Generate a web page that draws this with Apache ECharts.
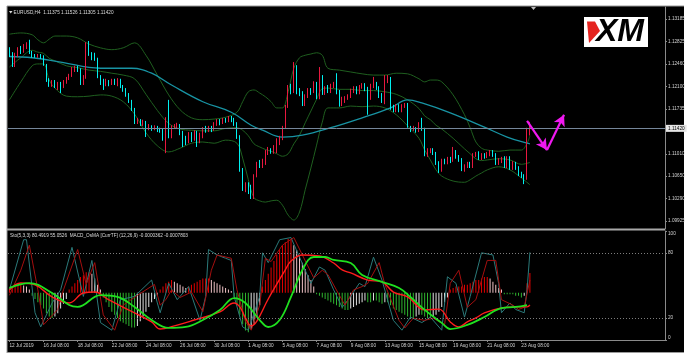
<!DOCTYPE html>
<html><head><meta charset="utf-8">
<script src="https://cdn.jsdelivr.net/npm/echarts@6/dist/echarts.min.js"></script>
<style>html,body{margin:0;padding:0;background:#fff;}#c{width:694px;height:359px;}</style>
</head><body><div id="c"></div><script>
// ---------- categories (H4 bars) ----------
const tradingDays = ['12 Jul','15 Jul','16 Jul','17 Jul','18 Jul','19 Jul','22 Jul','23 Jul','24 Jul','25 Jul','26 Jul','29 Jul','30 Jul','31 Jul','1 Aug','2 Aug','5 Aug','6 Aug','7 Aug','8 Aug','9 Aug','12 Aug','13 Aug','14 Aug','15 Aug','16 Aug','19 Aug','20 Aug','21 Aug','22 Aug','23 Aug'];
const barHours = ['00:00','04:00','08:00','12:00','16:00','20:00'];
const firstBarHour = '08:00';
const emptyBarsRight = 47;
const timeTicks = ['12 Jul 08:00','16 Jul 08:00','18 Jul 08:00','22 Jul 08:00','24 Jul 08:00','26 Jul 08:00','30 Jul 08:00','1 Aug 08:00','5 Aug 08:00','7 Aug 08:00','9 Aug 08:00','13 Aug 08:00','15 Aug 08:00','19 Aug 08:00','21 Aug 08:00','23 Aug 08:00'];
const timeTickLabels = ['12 Jul 2019','16 Jul 08:00','18 Jul 08:00','22 Jul 08:00','24 Jul 08:00','26 Jul 08:00','30 Jul 08:00','1 Aug 08:00','5 Aug 08:00','7 Aug 08:00','9 Aug 08:00','13 Aug 08:00','15 Aug 08:00','19 Aug 08:00','21 Aug 08:00','23 Aug 08:00'];
const priceTicks = [1.13185,1.12825,1.12460,1.12100,1.11735,1.11010,1.10650,1.10290,1.09925];
const oscTicks = [0,20,80,100];
const oscLevels = [80,20];
const lastPrice = 1.11420;

// ---------- EURUSD H4 candles [open, close, low, high] ----------
const candles = [
[1.1269,1.1260,1.1257,1.1273],[1.1260,1.1244,1.1241,1.1265],[1.1244,1.1260,1.1241,1.1264],[1.1260,1.1269,1.1257,1.1273],
[1.1269,1.1265,1.1262,1.1275],[1.1265,1.1273,1.1264,1.1278],[1.1273,1.1278,1.1270,1.1281],[1.1278,1.1264,1.1262,1.1285],
[1.1264,1.1259,1.1256,1.1267],[1.1259,1.1257,1.1256,1.1262],[1.1257,1.1260,1.1256,1.1262],[1.1260,1.1257,1.1254,1.1262],
[1.1257,1.1244,1.1243,1.1260],[1.1244,1.1220,1.1217,1.1246],[1.1220,1.1212,1.1209,1.1223],[1.1212,1.1217,1.1209,1.1220],
[1.1217,1.1210,1.1207,1.1220],[1.1210,1.1214,1.1204,1.1217],[1.1214,1.1209,1.1199,1.1217],[1.1209,1.1217,1.1207,1.1220],
[1.1217,1.1222,1.1214,1.1225],[1.1222,1.1228,1.1220,1.1230],[1.1228,1.1238,1.1225,1.1241],[1.1238,1.1239,1.1233,1.1243],
[1.1239,1.1236,1.1233,1.1243],[1.1236,1.1215,1.1212,1.1239],[1.1215,1.1225,1.1212,1.1228],[1.1225,1.1277,1.1222,1.1281],
[1.1277,1.1260,1.1259,1.1283],[1.1260,1.1256,1.1252,1.1265],[1.1256,1.1252,1.1251,1.1264],[1.1252,1.1225,1.1223,1.1256],
[1.1225,1.1215,1.1212,1.1228],[1.1215,1.1212,1.1204,1.1222],[1.1212,1.1218,1.1210,1.1222],[1.1218,1.1214,1.1210,1.1220],
[1.1214,1.1218,1.1212,1.1222],[1.1218,1.1215,1.1212,1.1222],[1.1215,1.1220,1.1210,1.1223],[1.1220,1.1210,1.1207,1.1222],
[1.1210,1.1204,1.1201,1.1212],[1.1204,1.1196,1.1193,1.1207],[1.1196,1.1185,1.1183,1.1199],[1.1185,1.1173,1.1170,1.1188],
[1.1173,1.1152,1.1149,1.1175],[1.1152,1.1156,1.1149,1.1159],[1.1156,1.1149,1.1146,1.1157],[1.1149,1.1152,1.1146,1.1156],
[1.1152,1.1143,1.1128,1.1154],[1.1143,1.1146,1.1139,1.1149],[1.1146,1.1141,1.1138,1.1147],[1.1141,1.1144,1.1139,1.1147],
[1.1144,1.1139,1.1136,1.1146],[1.1139,1.1138,1.1135,1.1143],[1.1138,1.1130,1.1122,1.1141],[1.1130,1.1156,1.1102,1.1160],
[1.1156,1.1130,1.1126,1.1188],[1.1130,1.1144,1.1126,1.1147],[1.1144,1.1146,1.1141,1.1149],[1.1146,1.1147,1.1141,1.1151],
[1.1147,1.1135,1.1131,1.1149],[1.1135,1.1122,1.1112,1.1138],[1.1122,1.1120,1.1115,1.1130],[1.1120,1.1133,1.1118,1.1136],
[1.1133,1.1123,1.1120,1.1136],[1.1123,1.1136,1.1122,1.1139],[1.1136,1.1122,1.1112,1.1138],[1.1122,1.1131,1.1118,1.1135],
[1.1131,1.1143,1.1126,1.1144],[1.1143,1.1138,1.1135,1.1146],[1.1138,1.1143,1.1136,1.1146],[1.1143,1.1139,1.1136,1.1146],
[1.1139,1.1149,1.1138,1.1152],[1.1149,1.1154,1.1146,1.1157],[1.1154,1.1151,1.1147,1.1157],[1.1151,1.1156,1.1149,1.1159],
[1.1156,1.1154,1.1151,1.1159],[1.1154,1.1159,1.1152,1.1162],[1.1159,1.1156,1.1152,1.1162],[1.1156,1.1149,1.1146,1.1159],
[1.1149,1.1128,1.1125,1.1152],[1.1128,1.1075,1.1072,1.1131],[1.1075,1.1046,1.1041,1.1078],[1.1046,1.1052,1.1039,1.1055],
[1.1052,1.1043,1.1036,1.1055],[1.1043,1.1031,1.1028,1.1051],[1.1031,1.1065,1.1028,1.1068],[1.1065,1.1084,1.1063,1.1088],
[1.1084,1.1081,1.1078,1.1091],[1.1081,1.1088,1.1078,1.1093],[1.1088,1.1102,1.1083,1.1107],[1.1102,1.1107,1.1099,1.1112],
[1.1107,1.1104,1.1101,1.1110],[1.1104,1.1112,1.1101,1.1115],[1.1112,1.1123,1.1102,1.1126],[1.1123,1.1126,1.1115,1.1130],
[1.1126,1.1143,1.1123,1.1146],[1.1143,1.1177,1.1141,1.1180],[1.1177,1.1209,1.1175,1.1212],[1.1209,1.1201,1.1197,1.1214],
[1.1201,1.1241,1.1199,1.1249],[1.1241,1.1201,1.1197,1.1244],[1.1201,1.1199,1.1194,1.1207],[1.1199,1.1181,1.1178,1.1202],
[1.1181,1.1194,1.1178,1.1197],[1.1194,1.1204,1.1191,1.1207],[1.1204,1.1201,1.1196,1.1207],[1.1201,1.1215,1.1199,1.1218],
[1.1215,1.1193,1.1189,1.1217],[1.1193,1.1225,1.1189,1.1241],[1.1225,1.1199,1.1196,1.1228],[1.1199,1.1207,1.1196,1.1210],
[1.1207,1.1202,1.1199,1.1212],[1.1202,1.1210,1.1199,1.1214],[1.1210,1.1214,1.1207,1.1217],[1.1214,1.1201,1.1197,1.1231],
[1.1201,1.1181,1.1177,1.1204],[1.1181,1.1188,1.1178,1.1193],[1.1188,1.1191,1.1183,1.1194],[1.1191,1.1194,1.1188,1.1197],
[1.1194,1.1202,1.1191,1.1206],[1.1202,1.1207,1.1199,1.1210],[1.1207,1.1201,1.1197,1.1210],[1.1201,1.1209,1.1197,1.1212],
[1.1209,1.1212,1.1206,1.1215],[1.1212,1.1206,1.1202,1.1215],[1.1206,1.1191,1.1164,1.1209],[1.1191,1.1210,1.1188,1.1214],
[1.1210,1.1214,1.1207,1.1225],[1.1214,1.1207,1.1204,1.1217],[1.1207,1.1194,1.1191,1.1210],[1.1194,1.1188,1.1183,1.1199],
[1.1188,1.1220,1.1181,1.1228],[1.1220,1.1222,1.1215,1.1228],[1.1222,1.1175,1.1172,1.1225],[1.1175,1.1173,1.1168,1.1180],
[1.1173,1.1178,1.1168,1.1181],[1.1178,1.1172,1.1168,1.1181],[1.1172,1.1178,1.1168,1.1181],[1.1178,1.1180,1.1175,1.1183],
[1.1180,1.1144,1.1143,1.1183],[1.1144,1.1139,1.1136,1.1146],[1.1139,1.1143,1.1138,1.1146],[1.1143,1.1138,1.1135,1.1144],
[1.1138,1.1149,1.1136,1.1152],[1.1149,1.1139,1.1138,1.1159],[1.1139,1.1099,1.1097,1.1143],[1.1099,1.1107,1.1096,1.1110],
[1.1107,1.1109,1.1102,1.1110],[1.1109,1.1102,1.1099,1.1110],[1.1102,1.1086,1.1083,1.1104],[1.1086,1.1073,1.1070,1.1089],
[1.1073,1.1089,1.1072,1.1093],[1.1089,1.1088,1.1084,1.1093],[1.1088,1.1093,1.1084,1.1096],[1.1093,1.1089,1.1086,1.1096],
[1.1089,1.1104,1.1088,1.1112],[1.1104,1.1096,1.1093,1.1107],[1.1096,1.1091,1.1088,1.1099],[1.1091,1.1075,1.1073,1.1094],
[1.1075,1.1081,1.1072,1.1084],[1.1081,1.1084,1.1078,1.1088],[1.1084,1.1081,1.1078,1.1088],[1.1081,1.1099,1.1078,1.1102],
[1.1099,1.1101,1.1096,1.1104],[1.1101,1.1093,1.1091,1.1105],[1.1093,1.1099,1.1091,1.1102],[1.1099,1.1096,1.1093,1.1102],
[1.1096,1.1101,1.1094,1.1104],[1.1101,1.1104,1.1097,1.1107],[1.1104,1.1099,1.1096,1.1107],[1.1099,1.1086,1.1083,1.1102],
[1.1086,1.1091,1.1083,1.1094],[1.1091,1.1093,1.1086,1.1096],[1.1093,1.1081,1.1078,1.1097],[1.1081,1.1094,1.1078,1.1097],
[1.1094,1.1078,1.1075,1.1097],[1.1078,1.1086,1.1075,1.1089],[1.1086,1.1078,1.1075,1.1088],[1.1078,1.1067,1.1065,1.1081],
[1.1067,1.1065,1.1062,1.1072],[1.1065,1.1062,1.1052,1.1068],[1.1062,1.1138,1.1059,1.1143],[1.11375,1.11420,1.11305,1.11526]
];

// ---------- overlays: [bar index, price] ----------
const bbUpper = [[0,1.1294],[4,1.1296],[8,1.1293],[10,1.1285],[12,1.1280],[14,1.1286],[16,1.1291],[20,1.1291],[24,1.1288],[28,1.1278],[32,1.1272],[36,1.1269],[40,1.1272],[44,1.1280],[48,1.1260],[52,1.1228],[56,1.1196],[60,1.1172],[64,1.1159],[68,1.1156],[72,1.1157],[76,1.1160],[80,1.1168],[82,1.1185],[84,1.1201],[86,1.1204],[88,1.1199],[90,1.1193],[92,1.1185],[94,1.1175],[96,1.1175],[98,1.1201],[100,1.1239],[102,1.1256],[104,1.1260],[106,1.1262],[108,1.1264],[110,1.1260],[112,1.1239],[116,1.1236],[120,1.1233],[124,1.1230],[128,1.1228],[132,1.1228],[136,1.1231],[140,1.1230],[144,1.1222],[146,1.1217],[148,1.1220],[150,1.1220],[152,1.1217],[156,1.1196],[160,1.1164],[162,1.1143],[164,1.1120],[166,1.1110],[168,1.1107],[172,1.1105],[176,1.1107],[180,1.1107],[182,1.1118],[183,1.1130]];
const bbMiddle = [[0,1.1241],[4,1.1256],[8,1.1268],[10,1.1265],[12,1.1263],[14,1.1255],[16,1.1251],[20,1.1243],[24,1.1240],[28,1.1236],[32,1.1234],[36,1.1231],[40,1.1228],[44,1.1222],[48,1.1197],[52,1.1171],[56,1.1150],[60,1.1141],[64,1.1139],[68,1.1138],[72,1.1138],[76,1.1142],[80,1.1143],[82,1.1139],[84,1.1130],[86,1.1117],[88,1.1112],[90,1.1108],[92,1.1105],[94,1.1101],[96,1.1097],[98,1.1101],[100,1.1117],[102,1.1131],[104,1.1151],[106,1.1170],[108,1.1189],[110,1.1206],[112,1.1207],[116,1.1205],[120,1.1205],[124,1.1203],[128,1.1203],[132,1.1201],[136,1.1197],[140,1.1188],[144,1.1174],[146,1.1162],[148,1.1156],[150,1.1147],[152,1.1141],[156,1.1126],[160,1.1109],[162,1.1101],[164,1.1093],[166,1.1090],[168,1.1091],[172,1.1093],[176,1.1091],[180,1.1084],[183,1.1087]];
const bbLower = [[0,1.1188],[4,1.1217],[8,1.1243],[10,1.1246],[12,1.1246],[14,1.1220],[16,1.1207],[20,1.1194],[24,1.1193],[28,1.1194],[32,1.1196],[36,1.1194],[40,1.1185],[44,1.1165],[48,1.1135],[52,1.1114],[56,1.1104],[60,1.1110],[64,1.1118],[68,1.1120],[72,1.1118],[76,1.1123],[80,1.1118],[82,1.1094],[84,1.1059],[86,1.1030],[88,1.1025],[90,1.1023],[92,1.1025],[94,1.1026],[96,1.1018],[98,1.1002],[100,1.0994],[102,1.1007],[104,1.1043],[106,1.1078],[108,1.1115],[110,1.1152],[112,1.1175],[116,1.1175],[120,1.1178],[124,1.1177],[128,1.1178],[132,1.1175],[136,1.1164],[140,1.1146],[144,1.1126],[146,1.1107],[148,1.1091],[150,1.1075],[152,1.1065],[156,1.1057],[160,1.1055],[162,1.1059],[164,1.1065],[166,1.1070],[168,1.1075],[172,1.1080],[176,1.1075],[180,1.1062],[183,1.1051]];
const maLine = [[0,1.1258],[8,1.1256],[18,1.1249],[32,1.1239],[43,1.1239],[50,1.1231],[57,1.1212],[68,1.1185],[78,1.1168],[85,1.1147],[89,1.1139],[96,1.1128],[103,1.1131],[113,1.1143],[124,1.1159],[134,1.1175],[140,1.1188],[145,1.1183],[155,1.1167],[167,1.1144],[175,1.1128],[182,1.1118],[183,1.1117]];
const arrowPath = [[182,1.1154],[189,1.1107],[195,1.1164]];

// ---------- oscillator window ----------
const stochMain = [[0,46],[5,92],[6,92],[9,25],[11,12],[15,34],[18,46],[22,85],[26,40],[29,73],[32,16],[36,9],[39,37],[44,40],[50,55],[52,34],[53,25],[56,52],[59,37],[63,49],[67,18],[69,40],[70,83],[73,78],[76,75],[78,73],[79,40],[82,12],[84,9],[88,40],[89,80],[91,71],[95,92],[99,94],[102,76],[106,52],[109,67],[111,64],[114,46],[117,30],[120,40],[123,52],[125,49],[128,76],[131,55],[135,18],[138,9],[141,21],[145,16],[148,21],[152,9],[154,58],[157,52],[160,21],[162,40],[166,80],[170,78],[172,52],[173,25],[176,34],[178,28],[181,25],[182,46],[183,80.49]];
const stochSignal = [[0,41],[4,64],[7,87],[10,46],[12,14],[17,28],[19,46],[24,83],[27,51],[30,71],[33,23],[37,9],[40,32],[45,41],[51,51],[53,32],[55,37],[57,46],[60,39],[64,44],[68,26],[71,64],[73,78],[78,75],[80,46],[83,17],[85,9],[88,32],[90,75],[92,72],[96,87],[100,94],[103,78],[107,57],[110,64],[112,60],[116,41],[118,32],[121,46],[124,49],[126,52],[130,71],[132,51],[137,18],[139,11],[142,20],[146,18],[149,20],[153,14],[155,52],[158,64],[161,30],[164,37],[168,73],[171,73],[173,37],[177,32],[179,28],[181,30],[183,55.05]];
// MACD values in units of 0.0001
const macdMain = [[0,1.7],[4,6.1],[9,4.9],[15,-2.7],[21,-6.5],[26,-0.2],[30,0.4],[35,-4.6],[44,-12.8],[50,-18.5],[53,-23],[58,-21],[65,-17.3],[74,-12.2],[79,-6.5],[81,-9],[83,-16],[85,-21],[87,-18],[91,-4],[97,14.4],[99,20],[103,23.9],[109,23.2],[114,18.8],[117,14.4],[120,12.5],[126,8],[131,6.8],[135,0.4],[140,-2.7],[146,-10.9],[151,-10.4],[155,-18.5],[158,-21.7],[161,-18.5],[164,-16],[167,-12.8],[173,-9.7],[178,-9],[182,-9],[183,-7.8]];
const macdSignal = [[0,3],[7,6.1],[15,-0.2],[21,-7.8],[24,-9],[32,-1.5],[38,-2.7],[44,-9],[50,-17.3],[56,-22.3],[62,-21.7],[68,-17.3],[74,-11],[79,-3.4],[83,-6.5],[88,-17.3],[91,-21.7],[95,-17.3],[99,-2.7],[103,14.4],[107,22.6],[111,22.6],[114,20.7],[120,18.8],[124,11.2],[131,6.8],[137,3],[141,-2.7],[146,-10.9],[152,-19.1],[155,-23],[161,-20.4],[167,-15.4],[173,-9.7],[178,-9],[182,-7.8]];
const osmaHist = [3,3.5,4,4.5,5,4.5,4,2,
-2,-4,-6,-8,-10,-13,-15,-16,-15,-13,-10,-7,-4,
2,4,6,8,10,11,13,13,12,9,5,2,
-3,-6,-9,-12,-14,-16,-18,-19,-20,-21,-22,-22,-21,-18,-15,-12,-9,-6,-4,-2,
2,4,6,7,8,7,6,5,4,3,
4,5,6,7,8,9,9,9,8,7,6,5,4,3,2,1,
-3,-8,-14,-20,-24,-25,-23,-20,-15,-8,
4,8,12,16,20,24,27,30,32,34,34,30,
27,23,19,15,11,8,4,
-1,-2,-3,-4,-5,-6,-7,-8,-9,-10,-11,-11,-10,-9,-8,-7,-6,-5,
-6,-6,-5,-5,-6,-7,-6,-6,-8,-10,-11,-12,-13,-14,-15,-16,-16,-15,-14,-14,-15,-16,-16,-15,-14,-12,-9,-6,-3,
2,3,4,4,4,5,5,6,7,8,8,9,10,10,9,7,5,3,2,
-1,-1,-1,-1,-2,-2,-3,-2,
6,12.5];

// ---------- build ----------
const categories = [];
tradingDays.forEach((d, k) => barHours.forEach(h => {
  if (k === 0 && h < firstBarHour) return;
  categories.push(d + ' ' + h);
}));
for (let k = 0; k < emptyBarsRight; k++) categories.push('pad' + k);
const isTick = (idx, val) => timeTicks.indexOf(val) >= 0;

const FONT = 'Liberation Sans';
const SMALL = 4.7;
const TXT = '#d2d2d2';
const GRAY = '#8a8a8a';

const histColor = p => {
  const i = p.dataIndex, v = osmaHist[i], pv = i > 0 ? osmaHist[i - 1] : 0;
  if (v >= 0) return v >= pv ? '#e60000' : '#f2c4c8';
  return v <= pv ? '#2fb52f' : '#e4e4e4';
};

const chart = echarts.init(document.getElementById('c'), null, {renderer: 'canvas'});
chart.setOption({
  animation: false,
  backgroundColor: '#ffffff',
  grid: [
    {left: 8, top: 7, width: 657, height: 222, outerBoundsMode: 'none'},
    {left: 8, top: 231, width: 657, height: 109, outerBoundsMode: 'none'}
  ],
  xAxis: [
    {type: 'category', gridIndex: 0, data: categories, boundaryGap: true,
     axisLine: {show: false}, axisTick: {show: false}, axisLabel: {show: false}, splitLine: {show: false}},
    {type: 'category', gridIndex: 1, data: categories, boundaryGap: true,
     axisLine: {show: true, lineStyle: {color: GRAY, width: 1}},
     axisTick: {show: true, alignWithLabel: true, interval: isTick, length: 2, lineStyle: {color: GRAY}},
     axisLabel: {show: true, interval: isTick, align: 'left', margin: 3, color: TXT, fontSize: SMALL, fontFamily: FONT,
       formatter: v => { const k = timeTicks.indexOf(v); return k >= 0 ? timeTickLabels[k] : ''; }},
     splitLine: {show: false}}
  ],
  yAxis: [
    {type: 'value', gridIndex: 0, position: 'right', min: 1.097959, max: 1.133787, scale: true,
     axisLine: {show: true, lineStyle: {color: GRAY}},
     axisTick: {show: true, length: 2, customValues: priceTicks, lineStyle: {color: GRAY}},
     axisLabel: {show: true, customValues: priceTicks, formatter: v => v.toFixed(5), margin: 3, color: TXT, fontSize: SMALL, fontFamily: FONT},
     splitLine: {show: false}},
    {type: 'value', gridIndex: 1, position: 'right', min: 0, max: 100,
     axisLine: {show: true, lineStyle: {color: GRAY}},
     axisTick: {show: true, length: 2, customValues: oscTicks, lineStyle: {color: GRAY}},
     axisLabel: {show: true, customValues: oscTicks, margin: 3, color: TXT, fontSize: SMALL, fontFamily: FONT,
       verticalAlignMinLabel: 'bottom', verticalAlignMaxLabel: 'top'},
     splitLine: {show: false}},
    {type: 'value', gridIndex: 1, min: -29.94, max: 39.05, show: false, splitLine: {show: false}}
  ],
  series: [
    {type: 'line', name: 'bbU', xAxisIndex: 0, yAxisIndex: 0, data: bbUpper, smooth: 0.35, symbol: 'none', z: 1,
     lineStyle: {color: '#1f5f1f', width: 1}},
    {type: 'line', name: 'bbM', xAxisIndex: 0, yAxisIndex: 0, data: bbMiddle, smooth: 0.35, symbol: 'none', z: 1,
     lineStyle: {color: '#1f5f1f', width: 1}},
    {type: 'line', name: 'bbL', xAxisIndex: 0, yAxisIndex: 0, data: bbLower, smooth: 0.35, symbol: 'none', z: 1,
     lineStyle: {color: '#1f5f1f', width: 1}},
    {type: 'line', name: 'ma', xAxisIndex: 0, yAxisIndex: 0, data: maLine, smooth: 0.4, symbol: 'none', z: 1,
     lineStyle: {color: '#1893a3', width: 1.3},
     markLine: {silent: true, animation: false, precision: 5, symbol: ['none', 'none'],
       data: [{yAxis: lastPrice, lineStyle: {color: '#75869a', width: 1, type: 'solid'},
          label: {show: true, position: 'end', distance: 1, formatter: lastPrice.toFixed(5), backgroundColor: '#e6e6e6',
                  color: '#000', fontSize: SMALL, fontFamily: FONT, padding: [1, 2, 1, 2]}}]}},
    {type: 'candlestick', xAxisIndex: 0, yAxisIndex: 0, data: candles, barWidth: 1, z: 3,
     itemStyle: {color: '#e8183f', color0: '#00f0f0', borderColor: '#e8183f', borderColor0: '#00f0f0', borderWidth: 1},
     markLine: {silent: true, animation: false, precision: 5, symbol: ['none', 'none'], label: {show: false},
       data: [
         [{coord: arrowPath[0], symbol: 'none'}, {coord: arrowPath[1], symbol: 'arrow', symbolSize: [9, 11],
           lineStyle: {color: '#f019f0', width: 2.2, type: 'solid'}}],
         [{coord: arrowPath[1], symbol: 'none'}, {coord: arrowPath[2], symbol: 'arrow', symbolSize: [9, 11],
           lineStyle: {color: '#f019f0', width: 2.2, type: 'solid'}}]
       ]}},
    {type: 'bar', xAxisIndex: 1, yAxisIndex: 2, data: osmaHist, barWidth: 1, z: 1,
     itemStyle: {color: histColor}},
    {type: 'line', xAxisIndex: 1, yAxisIndex: 1, data: stochMain, symbol: 'none', z: 2,
     lineStyle: {color: '#2b7a7a', width: 1},
     markLine: {silent: true, symbol: ['none', 'none'], label: {show: false},
       lineStyle: {color: '#7d7d7d', width: 1, type: [1, 2]},
       data: oscLevels.map(v => ({yAxis: v}))}},
    {type: 'line', xAxisIndex: 1, yAxisIndex: 1, data: stochSignal, symbol: 'none', z: 2,
     lineStyle: {color: '#a50f0f', width: 1}},
    {type: 'line', xAxisIndex: 1, yAxisIndex: 2, data: macdMain, smooth: 0.4, symbol: 'none', z: 3,
     lineStyle: {color: '#ff1c1c', width: 1.4}},
    {type: 'line', xAxisIndex: 1, yAxisIndex: 2, data: macdSignal, smooth: 0.4, symbol: 'none', z: 3,
     lineStyle: {color: '#1fe01f', width: 1.8}}
  ],
  graphic: [
    {type: 'rect', z: -100, silent: true, shape: {x: 7, y: 6, width: 677, height: 347}, style: {fill: '#000'}},
    {type: 'rect', z: 100, silent: true, shape: {x: 7, y: 5.5, width: 677, height: 1}, style: {fill: '#9a9a9a'}},
    {type: 'rect', z: 100, silent: true, shape: {x: 6.5, y: 6, width: 1, height: 347}, style: {fill: '#9a9a9a'}},
    {type: 'rect', z: 100, silent: true, shape: {x: 7, y: 352, width: 677, height: 1}, style: {fill: '#9a9a9a'}},
    {type: 'rect', z: 100, silent: true, shape: {x: 7, y: 228.5, width: 658, height: 2}, style: {fill: '#a8a8a8'}},
    {type: 'polygon', z: 100, silent: true, shape: {points: [[531, 7], [536, 7], [533.5, 10]]}, style: {fill: '#bdbdbd'}},
    {type: 'polygon', z: 100, silent: true, shape: {points: [[9, 11], [12.5, 11], [10.75, 13.5]]}, style: {fill: '#dcdcdc'}},
    {type: 'text', z: 100, silent: true, style: {text: 'EURUSD,H4  1.11375 1.11526 1.11305 1.11420', x: 13.5, y: 12.3,
      fill: '#dcdcdc', fontSize: SMALL, fontFamily: FONT, verticalAlign: 'middle'}},
    {type: 'text', z: 100, silent: true, style: {text: 'Sto(5,3,3) 80.4919 55.0526  MACD_OsMA [CurrTF] (12,26,9) -0.0000362 -0.0007803',
      x: 10, y: 235.3, fill: '#dcdcdc', fontSize: SMALL, fontFamily: FONT, verticalAlign: 'middle'}},
    {type: 'rect', z: 100, silent: true, shape: {x: 584, y: 17, width: 64, height: 30}, style: {fill: '#ffffff'}},
    {type: 'polygon', z: 101, silent: true, shape: {points: [[587, 21.5], [595, 21.5], [600, 31], [589, 43]]}, style: {fill: '#e5231f'}},
    {type: 'text', z: 101, silent: true, style: {text: 'XM', x: 620, y: 32.5, fill: '#000', fontSize: 32, fontWeight: 'bold',
      fontStyle: 'italic', fontFamily: FONT, align: 'center', verticalAlign: 'middle'}}
  ]
});
</script></body></html>
